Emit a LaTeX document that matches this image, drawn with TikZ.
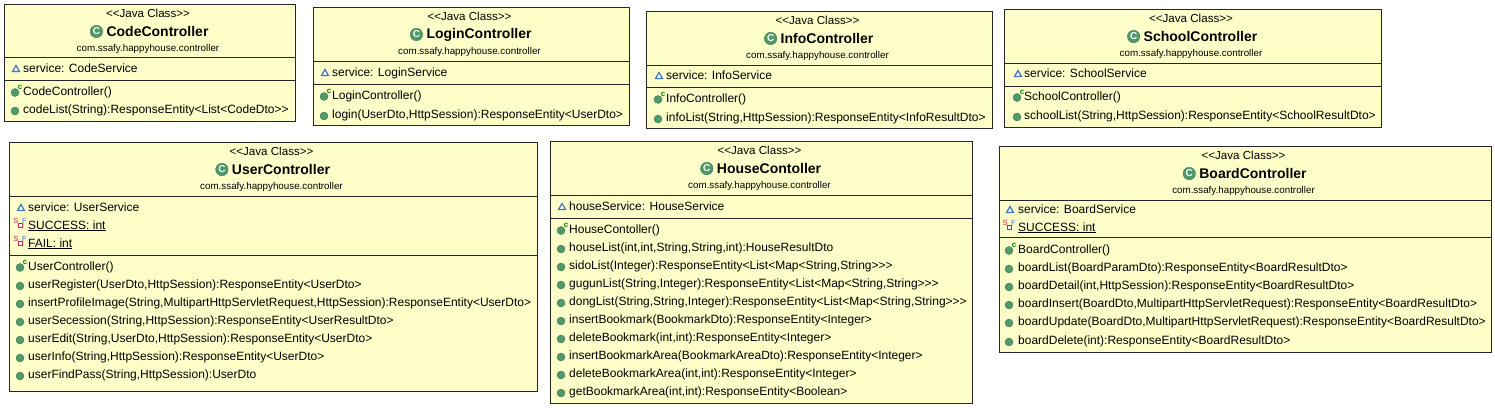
\documentclass[tikz,border=0pt]{standalone}
\usepackage{fontspec}
\usepackage{tikz}
\usetikzlibrary{positioning, shapes.geometric}
\newfontfamily\umlfont{Liberation Sans}
\definecolor{boxfill}{HTML}{FFFFC9}
\definecolor{methgreen}{HTML}{4E9A6B}
\definecolor{attrblue}{HTML}{3F74C0}
\definecolor{statred}{HTML}{D8204F}

% box, compartment lines and the three title rows
\newcommand{\classbox}[8]{
    \node[classrect, minimum width = #4pt - #2pt, minimum height = #5pt - #3pt] (#1) at ({(#2+#4)/2}, {(#3+#5)/2}) {};
    \draw[rule] (#2, #6) -- (#4, #6);
    \draw[rule] (#2, #7) -- (#4, #7);
    \node[stereo] (#1Stereo) at ({(#2+#4)/2-1.5}, #3+9.5) {<<Java Class>>};
    \node[classname] (#1Name) at ({(#2+#4)/2+8}, #3+27.5) {#8};
    \node[classicon, left = 3.5pt of #1Name] (#1Icon) {C};
    \node[package] (#1Pack) at ({(#2+#4)/2-1.5}, #3+44.5) {com.ssafy.happyhouse.controller};
}
% one row: id, icon x, text x, y, text
\newcommand{\attrrow}[5]{
    \node[attricon] (#1Icon) at (#2+1, #4+1.5) {};
    \node[member] (#1) at (#3, #4) {#5};
}
\newcommand{\statrow}[5]{
    \node[staticon] (#1Icon) at (#2+.5, #4+.5) {};
    \node[flag, text = statred] (#1S) at (#2-4, #4-4.5) {S};
    \node[flag, text = attrblue] (#1F) at (#2+4.5, #4-4) {F};
    \node[member] (#1) at (#3, #4) {\underline{#5}};
}
\newcommand{\methrow}[5]{
    \node[methicon] (#1Icon) at (#2, #4+2) {};
    \node[member] (#1) at (#3, #4) {#5};
}
\newcommand{\ctorrow}[5]{
    \node[methicon] (#1Icon) at (#2, #4+1.5) {};
    \node[flag, text = green!50!black, font = \umlfont\bfseries\fontsize{8}{8}\selectfont] (#1C) at (#2+5, #4-4) {c};
    \node[member] (#1) at (#3, #4) {#5};
}

\begin{document}
\begin{tikzpicture}[x = 1pt, y = -1pt, font = \umlfont,
    classrect/.style = {draw = black!85, fill = boxfill, line width = 0.9pt, inner sep = 0},
    rule/.style = {draw = black!85, line width = 0.8pt},
    stereo/.style = {inner sep = 0, font = \umlfont\fontsize{11.6}{12}\selectfont},
    classname/.style = {inner sep = 0, font = \umlfont\bfseries\fontsize{14}{15}\selectfont},
    package/.style = {inner sep = 0, font = \umlfont\fontsize{9.8}{10}\selectfont},
    member/.style = {anchor = west, inner sep = 0, yshift = -1pt, text height = 8.5pt, text depth = 2.5pt, font = \umlfont\fontsize{12}{12}\selectfont},
    flag/.style = {inner sep = 0, font = \umlfont\fontsize{7.5}{8}\selectfont},
    classicon/.style = {circle, fill = methgreen, draw = methgreen!70!black, line width = 0.3pt, minimum size = 12.5pt, inner sep = 0, text = white, font = \umlfont\bfseries\fontsize{10}{10}\selectfont},
    methicon/.style = {circle, fill = methgreen, draw = methgreen!70!black, line width = 0.3pt, minimum size = 8pt, inner sep = 0},
    attricon/.style = {regular polygon, regular polygon sides = 3, fill = white, draw = attrblue, line width = 1.2pt, minimum size = 8pt, inner sep = 0},
    staticon/.style = {rectangle, fill = white, draw = statred, line width = 1pt, minimum size = 4pt, inner sep = 0}]
    \useasboundingbox (0, 0) rectangle (1495, 407);

    % top row
    \classbox{code}{4}{4}{295}{121}{57}{80}{CodeController}
    \attrrow{codeService}{15}{23}{68}{service: CodeService}
    \ctorrow{codeCtor}{15}{23}{91}{CodeController()}
    \methrow{codeList}{15}{23}{109}{codeList(String):ResponseEntity<List<CodeDto>>}

    \classbox{login}{313}{7}{629}{125}{61}{84}{LoginController}
    \attrrow{loginService}{324}{332}{72}{service: LoginService}
    \ctorrow{loginCtor}{324}{332}{95}{LoginController()}
    \methrow{loginLogin}{324}{332}{114}{login(UserDto,HttpSession):ResponseEntity<UserDto>}

    \classbox{info}{646}{11}{992}{128}{65}{87}{InfoController}
    \attrrow{infoService}{658}{666}{75}{service: InfoService}
    \ctorrow{infoCtor}{658}{666}{98}{InfoController()}
    \methrow{infoList}{658}{666}{117}{infoList(String,HttpSession):ResponseEntity<InfoResultDto>}

    \classbox{school}{1004}{9}{1381}{127}{63}{86}{SchoolController}
    \attrrow{schoolService}{1017}{1024}{73}{service: SchoolService}
    \ctorrow{schoolCtor}{1017}{1024}{96}{SchoolController()}
    \methrow{schoolList}{1017}{1024}{115}{schoolList(String,HttpSession):ResponseEntity<SchoolResultDto>}

    % bottom row
    \classbox{user}{9}{142}{537}{391}{196}{255}{UserController}
    \attrrow{userService}{20}{28}{207}{service: UserService}
    \statrow{userSuccess}{20}{28}{225}{SUCCESS: int}
    \statrow{userFail}{20}{28}{243}{FAIL: int}
    \ctorrow{userCtor}{20}{28}{266}{UserController()}
    \foreach \y/\txt in {284/{userRegister(UserDto,HttpSession):ResponseEntity<UserDto>},
        302/{insertProfileImage(String,MultipartHttpServletRequest,HttpSession):ResponseEntity<UserDto>},
        320/{userSecession(String,HttpSession):ResponseEntity<UserResultDto>},
        338/{userEdit(String,UserDto,HttpSession):ResponseEntity<UserDto>},
        356/{userInfo(String,HttpSession):ResponseEntity<UserDto>},
        374/{userFindPass(String,HttpSession):UserDto}}
        \methrow{user\y}{20}{28}{\y}{\txt};

    \classbox{house}{550}{141}{972}{403}{195}{218}{HouseContoller}
    \attrrow{houseService}{561}{569}{206}{houseService: HouseService}
    \ctorrow{houseCtor}{561}{569}{229}{HouseContoller()}
    \foreach \y/\txt in {247/{houseList(int,int,String,String,int):HouseResultDto},
        265/{sidoList(Integer):ResponseEntity<List<Map<String,String>>>},
        283/{gugunList(String,Integer):ResponseEntity<List<Map<String,String>>>},
        301/{dongList(String,String,Integer):ResponseEntity<List<Map<String,String>>>},
        319/{insertBookmark(BookmarkDto):ResponseEntity<Integer>},
        337/{deleteBookmark(int,int):ResponseEntity<Integer>},
        355/{insertBookmarkArea(BookmarkAreaDto):ResponseEntity<Integer>},
        373/{deleteBookmarkArea(int,int):ResponseEntity<Integer>},
        391/{getBookmarkArea(int,int):ResponseEntity<Boolean>}}
        \methrow{house\y}{561}{569}{\y}{\txt};

    \classbox{board}{999}{146}{1491}{352}{200}{237}{BoardController}
    \attrrow{boardService}{1009}{1018}{209}{service: BoardService}
    \statrow{boardSuccess}{1009}{1018}{227}{SUCCESS: int}
    \ctorrow{boardCtor}{1009}{1018}{249}{BoardController()}
    \foreach \y/\txt in {267/{boardList(BoardParamDto):ResponseEntity<BoardResultDto>},
        285/{boardDetail(int,HttpSession):ResponseEntity<BoardResultDto>},
        303/{boardInsert(BoardDto,MultipartHttpServletRequest):ResponseEntity<BoardResultDto>},
        321/{boardUpdate(BoardDto,MultipartHttpServletRequest):ResponseEntity<BoardResultDto>},
        340/{boardDelete(int):ResponseEntity<BoardResultDto>}}
        \methrow{board\y}{1009}{1018}{\y}{\txt};
\end{tikzpicture}
\end{document}
